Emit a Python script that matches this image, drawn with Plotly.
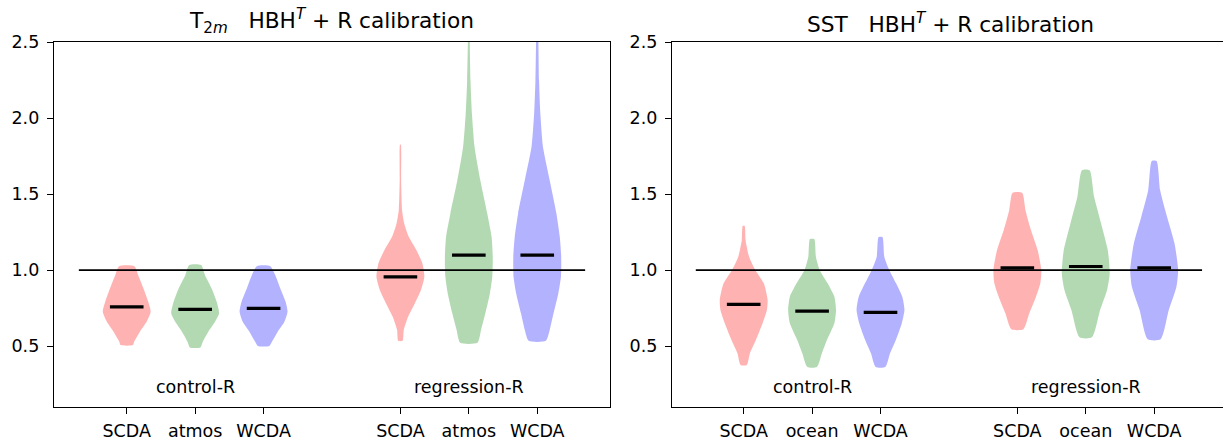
import plotly.graph_objects as go

# ---------------- data ----------------
positions = [1, 2, 3, 5, 6, 7]
labels_t2m = ["SCDA", "atmos", "WCDA", "SCDA", "atmos", "WCDA"]
labels_sst = ["SCDA", "ocean", "WCDA", "SCDA", "ocean", "WCDA"]
group_labels = ["control-R", "regression-R"]
group_centers = [2, 6]
yticks = [0.5, 1.0, 1.5, 2.0, 2.5]

# violin profiles: value levels (bottom -> top) and relative density (max = 1)
t2m_levels = [
    [0.507, 0.529, 0.595, 0.660, 0.726, 0.792, 0.880, 0.967, 1.026],
    [0.492, 0.529, 0.595, 0.660, 0.716, 0.792, 0.880, 0.967, 1.033],
    [0.501, 0.529, 0.595, 0.660, 0.726, 0.792, 0.880, 0.967, 1.026],
    [0.535, 0.606, 0.693, 0.781, 0.869, 0.956, 1.044, 1.131, 1.219, 1.307, 1.394, 1.591, 1.826],
    [0.522, 0.606, 0.716, 0.847, 0.956, 1.087, 1.219, 1.373, 1.591, 1.810, 2.029, 2.248, 2.49, 2.6],
    [0.535, 0.606, 0.716, 0.847, 0.956, 1.087, 1.219, 1.373, 1.591, 1.810, 2.029, 2.248, 2.49, 2.6],
]
t2m_density = [
    [0.26, 0.31, 0.55, 0.83, 1.0, 0.90, 0.70, 0.48, 0.32],
    [0.22, 0.32, 0.55, 0.83, 1.0, 0.90, 0.69, 0.41, 0.25],
    [0.24, 0.35, 0.59, 0.87, 1.0, 0.92, 0.70, 0.49, 0.28],
    [0.09, 0.14, 0.32, 0.60, 0.86, 1.0, 0.92, 0.67, 0.35, 0.16, 0.07, 0.03, 0.015],
    [0.36, 0.51, 0.69, 0.88, 0.98, 1.0, 0.95, 0.77, 0.48, 0.24, 0.13, 0.07, 0.04, 0.035],
    [0.36, 0.52, 0.68, 0.88, 0.99, 1.0, 0.94, 0.80, 0.52, 0.24, 0.13, 0.075, 0.05, 0.045],
]
t2m_means = [0.759, 0.742, 0.748, 0.956, 1.099, 1.099]

sst_levels = [
    [0.376, 0.453, 0.540, 0.650, 0.737, 0.803, 0.913, 1.0, 1.087, 1.197, 1.291],
    [0.363, 0.453, 0.540, 0.650, 0.737, 0.825, 0.913, 1.0, 1.087, 1.204],
    [0.363, 0.453, 0.540, 0.650, 0.737, 0.825, 0.913, 1.0, 1.087, 1.217],
    [0.611, 0.716, 0.825, 0.913, 1.0, 1.131, 1.263, 1.394, 1.508],
    [0.558, 0.737, 0.869, 0.978, 1.131, 1.307, 1.482, 1.657],
    [0.545, 0.737, 0.890, 1.0, 1.175, 1.350, 1.526, 1.718],
]
sst_density = [
    [0.13, 0.26, 0.51, 0.79, 0.97, 1.0, 0.84, 0.49, 0.23, 0.08, 0.04],
    [0.20, 0.41, 0.62, 0.93, 1.0, 0.93, 0.65, 0.32, 0.16, 0.09],
    [0.20, 0.40, 0.64, 0.89, 1.0, 0.91, 0.65, 0.37, 0.16, 0.08],
    [0.25, 0.50, 0.78, 0.96, 1.0, 0.85, 0.57, 0.34, 0.20],
    [0.26, 0.60, 0.89, 1.0, 0.92, 0.64, 0.35, 0.16],
    [0.27, 0.61, 0.93, 1.0, 0.85, 0.54, 0.25, 0.10],
]
sst_means = [0.775, 0.731, 0.722, 1.015, 1.024, 1.015]

ref_value = 1.0
ref_span = [0.3, 7.7]

# ---------------- style ----------------
FONT = "DejaVu Sans"
fills = ["rgba(255,0,0,0.3)", "rgba(0,128,0,0.3)", "rgba(0,0,255,0.3)"]
HALF_W = 0.35
TICK_SIZE = 17.5
TITLE_SIZE = 21.7

fig = go.Figure()


def add_panel(levels, density, means, xa, ya):
    for i, pos in enumerate(positions):
        lv = levels[i]
        dn = density[i]
        xs = [pos + HALF_W * d for d in dn] + [pos - HALF_W * d for d in reversed(dn)]
        ys = list(lv) + list(reversed(lv))
        xs.append(xs[0])
        ys.append(ys[0])
        fig.add_trace(go.Scatter(
            x=xs, y=ys, mode="lines", fill="toself",
            fillcolor=fills[i % 3], line=dict(width=0, shape="spline", smoothing=0.6),
            hoverinfo="skip", showlegend=False, xaxis=xa, yaxis=ya))
    fig.add_trace(go.Scatter(
        x=ref_span, y=[ref_value, ref_value], mode="lines",
        line=dict(color="black", width=1.6), showlegend=False, xaxis=xa, yaxis=ya))
    fig.add_trace(go.Scatter(
        x=positions, y=means, mode="markers",
        marker=dict(symbol="line-ew", size=24, line=dict(color="black", width=3.2)),
        showlegend=False, xaxis=xa, yaxis=ya))


add_panel(t2m_levels, t2m_density, t2m_means, "x", "y")
add_panel(sst_levels, sst_density, sst_means, "x2", "y2")

axis_common = dict(
    showline=True, linecolor="black", linewidth=1.4,
    ticks="outside", ticklen=6, tickwidth=1.4, tickcolor="black",
    showgrid=False, zeroline=False,
    tickfont=dict(family=FONT, size=TICK_SIZE, color="black"),
)

fig.update_layout(
    width=1223, height=440,
    margin=dict(l=54, r=0, t=42, b=33),
    paper_bgcolor="white", plot_bgcolor="white", showlegend=False,
    font=dict(family=FONT, color="black"),
    xaxis=dict(domain=[0, 0.4756], range=[-0.063, 8.063], tickvals=positions,
               ticktext=labels_t2m, mirror=True, anchor="y", ticklabelstandoff=2, **axis_common),
    yaxis=dict(domain=[0, 1], range=[0.1, 2.5], tickvals=yticks,
               ticktext=[f"{v:.1f}" for v in yticks], mirror=True, anchor="x",
               ticklabelstandoff=4, **axis_common),
    xaxis2=dict(domain=[0.5287, 1], range=[-0.047, 8.006], tickvals=positions,
                ticktext=labels_sst, mirror=True, anchor="y2", ticklabelstandoff=2, **axis_common),
    yaxis2=dict(domain=[0, 1], range=[0.1, 2.5], tickvals=yticks,
                ticktext=[f"{v:.1f}" for v in yticks], mirror=False, anchor="x2",
                ticklabelstandoff=4, **axis_common),
)

nb = "\u00a0"
titles = [
    ("T<sub>2<i>m</i></sub>" + nb * 3 + "HBH<sup><i>T</i></sup> + R calibration", 0.2378),
    ("SST" + nb * 3 + "HBH<sup><i>T</i></sup> + R calibration", 0.7665),
]
for text, xp in titles:
    fig.add_annotation(text=text, xref="paper", yref="paper", x=xp, y=1,
                       xanchor="center", yanchor="bottom", yshift=3, showarrow=False,
                       font=dict(family=FONT, size=TITLE_SIZE, color="black"))

for xa, ya in [("x", "y"), ("x2", "y2")]:
    for lab, cx in zip(group_labels, group_centers):
        fig.add_annotation(text=lab, xref=xa, yref=ya, x=cx, y=0.232,
                           xanchor="center", yanchor="middle", showarrow=False,
                           font=dict(family=FONT, size=TICK_SIZE, color="black"))

fig.write_html(
    "out.html",
    config={"displayModeBar": False},
    post_script="document.body.style.margin='0';document.body.style.overflow='hidden';",
)
